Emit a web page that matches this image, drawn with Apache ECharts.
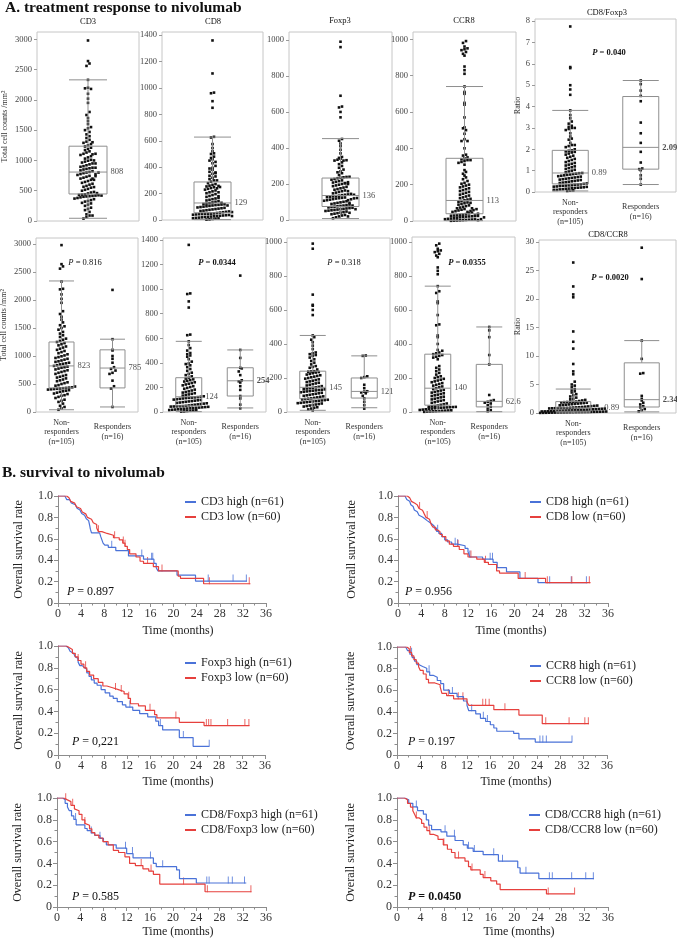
<!DOCTYPE html>
<html><head><meta charset="utf-8">
<script src="https://cdn.jsdelivr.net/npm/echarts@6/dist/echarts.min.js"></script>
<style>html,body{margin:0;padding:0;background:#fff}#main{width:677px;height:941px}</style>
</head><body><div id="main"></div>
<script>
// ================= DATA =================
const groupNames = ['Non-\nresponders\n(n=105)', 'Responders\n(n=16)'];
const allGroup = ['All patients'];

// Cell densities (cells/mm2) per patient, non-responders (105) and responders (16)
const cd3NR = [40,65,90,110,150,180,200,220,250,270,290,300,320,330,345,360,370,380,390,400,405,410,415,420,425,430,
 435,440,455,470,480,500,515,530,550,565,580,600,615,630,645,660,680,700,715,730,745,760,775,790,800,810,823,
 835,850,860,870,880,895,905,920,935,950,965,980,995,1010,1030,1050,1070,1090,1110,1130,1150,1170,1190,1210,1230,1250,
 1270,1290,1310,1340,1370,1400,1430,1470,1500,1530,1550,1600,1650,1700,1750,1800,1950,2020,2100,2190,2200,2330,2560,2600,2640,2980];
const cd3R = [90,420,460,560,680,700,740,770,800,880,950,1000,1100,1110,1300,2180];
const cd8NR = [3,5,8,10,12,14,16,18,20,22,24,26,28,30,32,34,36,38,40,42,44,45,46,47,48,50,
 53,56,59,62,65,68,71,74,77,80,83,86,89,92,95,98,101,104,107,110,113,115,117,119,121,124,
 128,133,138,143,148,153,158,163,168,175,182,189,196,203,210,217,224,230,236,242,248,254,260,266,272,279,
 290,300,310,320,335,350,365,380,390,395,410,430,450,460,470,480,500,520,545,575,625,630,850,900,960,965,1360];
const cd8R = [30,60,110,130,180,210,240,250,258,300,330,355,360,440,505,1110];
const foxNR = [10,15,20,25,28,32,35,38,41,44,47,50,52,54,56,58,60,62,64,66,68,70,72,74,76,78,
 80,83,86,89,92,95,98,101,104,107,110,113,116,119,121,123,125,127,129,131,133,135,138,140,142,145,
 148,152,156,160,164,168,172,176,180,184,188,192,196,200,204,208,212,216,220,224,228,232,235,237,239,240,
 250,260,265,270,280,290,300,310,320,330,335,340,345,350,370,390,410,425,440,450,570,600,625,630,690,960,990];
const foxR = [20,40,60,80,95,110,115,120,122,140,160,200,205,210,330,332];
const ccr8NR = [1,2,3,4,5,6,7,8,9,10,12,14,16,18,20,22,24,25,26,27,28,29,30,31,33,35,
 38,42,46,50,54,58,62,66,70,74,78,82,86,90,94,98,102,106,110,114,118,122,126,130,135,140,
 145,150,155,160,165,170,175,180,185,190,195,200,205,210,220,230,240,250,260,270,310,320,325,330,335,340,
 345,350,360,365,400,440,450,510,515,570,640,650,700,710,740,810,830,850,910,920,930,940,945,950,960,980,990];
const ccr8R = [5,10,20,30,40,50,55,60,65.2,70,100,280,335,440,480,500];
const ratioFoxNR = [0.05,0.07,0.08,0.1,0.1,0.12,0.13,0.15,0.16,0.18,0.19,0.2,0.21,0.22,0.24,0.25,0.26,0.28,0.29,0.3,0.31,0.32,0.34,0.35,0.36,0.38,
 0.4,0.42,0.44,0.46,0.48,0.5,0.52,0.54,0.56,0.58,0.6,0.62,0.64,0.66,0.68,0.7,0.72,0.74,0.76,0.78,0.8,0.82,0.84,0.86,0.88,0.89,
 0.92,0.96,1.0,1.04,1.08,1.12,1.16,1.2,1.24,1.28,1.32,1.36,1.4,1.45,1.5,1.55,1.6,1.65,1.7,1.75,1.8,1.85,1.88,1.9,1.93,1.95,
 2.0,2.1,2.15,2.2,2.2,2.3,2.45,2.5,2.6,2.75,2.9,2.95,3.0,3.0,3.05,3.1,3.2,3.3,3.45,3.6,3.82,4.55,4.8,5.0,5.8,5.85,7.75];
const ratioFoxR = [0.35,0.62,0.78,1.02,1.07,1.1,1.38,1.88,2.3,2.75,3.25,4.25,4.5,4.75,5.05,5.22];
const ratioCcrNR = [0.02,0.03,0.04,0.05,0.06,0.07,0.08,0.09,0.1,0.11,0.12,0.13,0.14,0.15,0.16,0.17,0.18,0.19,0.2,0.21,0.22,0.24,0.26,0.27,0.28,0.3,
 0.32,0.34,0.36,0.38,0.4,0.42,0.44,0.46,0.48,0.5,0.53,0.56,0.59,0.62,0.65,0.68,0.71,0.74,0.77,0.8,0.82,0.84,0.86,0.87,0.88,0.89,
 0.92,0.95,0.98,1.01,1.05,1.1,1.15,1.2,1.25,1.3,1.35,1.4,1.45,1.5,1.55,1.6,1.65,1.7,1.75,1.8,1.85,1.9,1.93,1.96,1.98,2.0,
 2.1,2.2,2.3,2.4,2.5,2.7,2.9,3.1,3.3,3.6,3.8,4.0,4.2,4.5,4.8,5.0,5.5,6.8,7.3,8.6,11.3,12.5,14.3,20.3,20.8,22.2,26.4];
const ratioCcrR = [0.3,0.5,0.7,1.0,1.2,1.5,1.8,2.2,2.48,3.0,6.9,7.0,9.5,12.7,23.5,29.0];

// Box statistics: [lower whisker, Q1, median, Q3, upper whisker]
const cd3AllBox = [45,446,808,1235,2330];
const cd8AllBox = [3,55,129,288,628];
const foxAllBox = [8,75,136,233,452];
const ccr8AllBox = [2,40,113,345,740];
const ratioFoxBox = [[0.05,0.38,0.89,1.95,3.82],[0.35,1.07,2.09,4.47,5.22]];
const cd3Box = [[40,430,823,1250,2340],[90,430,785,1110,1300]];
const cd8Box = [[3,50,124,279,575],[33,130,254,360,505]];
const foxBox = [[10,78,145,240,450],[25,82,121,200,330]];
const ccr8Box = [[1,40,140,340,740],[2,30,62.6,280,500]];
const ratioCcrBox = [[0.02,0.3,0.89,2.0,4.2],[0.2,1.05,2.34,8.8,12.7]];

// P values
const pCD3 = '0.816', pCD8 = '0.0344', pFox = '0.318', pCCR8 = '0.0355', pRatioCcr = '0.0020', pRatioFox = '0.040';

// Kaplan-Meier curves: [time (months), survival after drop]; censor times
const cd3HighKM = [[0,1],[1.2,0.984],[1.5,0.967],[2.0,0.951],[2.3,0.934],[2.6,0.918],[3.0,0.902],[3.3,0.885],[3.6,0.869],[3.8,0.852],[4.1,0.836],[4.4,0.82],[4.6,0.803],[4.9,0.787],[5.1,0.77],[5.3,0.754],[5.5,0.72],[5.6,0.69],[5.8,0.656],[7.2,0.639],[7.4,0.62],[7.6,0.59],[7.8,0.56],[8.1,0.54],[8.7,0.52],[10.0,0.49],[12.2,0.44],[14.8,0.41],[16.6,0.37],[17.0,0.33],[17.3,0.3],[20.6,0.26],[23.8,0.205],[32.7,0.205]];
const cd3HighCens = [9.3,14.5,16.2,16.4,26.0,30.3,32.6];
const cd3LowKM = [[0,1],[1.5,0.983],[1.9,0.967],[2.2,0.95],[2.5,0.933],[2.9,0.917],[3.2,0.9],[3.5,0.883],[3.9,0.867],[4.2,0.85],[4.5,0.833],[4.8,0.817],[5.1,0.8],[5.4,0.783],[5.8,0.767],[6.1,0.75],[6.4,0.733],[6.7,0.7],[7.0,0.667],[7.6,0.65],[8.5,0.633],[9.6,0.61],[10.6,0.59],[11.2,0.56],[11.6,0.53],[12.0,0.5],[12.4,0.46],[13.5,0.43],[14.2,0.39],[14.8,0.37],[16.5,0.34],[17.4,0.3],[20.8,0.25],[21.2,0.23],[25.2,0.18],[33.3,0.18]];
const cd3LowCens = [7.0,9.8,11.3,11.6,15.5,18.0,26.2,33.1];
const cd8HighKM = [[0,1],[1.2,0.984],[1.5,0.967],[1.8,0.951],[2.0,0.934],[2.2,0.918],[2.4,0.902],[2.6,0.885],[2.8,0.869],[3.0,0.852],[3.3,0.836],[3.6,0.82],[3.9,0.803],[4.2,0.787],[4.6,0.77],[5.0,0.754],[5.4,0.738],[5.8,0.72],[6.2,0.7],[6.6,0.67],[7.0,0.65],[7.5,0.62],[8.0,0.59],[8.5,0.57],[9.2,0.55],[10.2,0.535],[11.5,0.51],[12.0,0.48],[12.3,0.43],[14.5,0.41],[16.3,0.38],[17.0,0.33],[18.6,0.29],[20.9,0.23],[24.0,0.19],[32.5,0.19]];
const cd8HighCens = [6.8,9.8,10.2,12.3,15.8,16.2,26.0,29.7,32.3];
const cd8LowKM = [[0,1],[1.6,0.983],[2.0,0.967],[2.3,0.95],[2.6,0.933],[2.9,0.917],[3.3,0.9],[3.6,0.883],[3.9,0.867],[4.2,0.85],[4.5,0.833],[4.8,0.8],[5.1,0.783],[5.4,0.767],[5.7,0.733],[6.0,0.71],[6.4,0.683],[6.8,0.667],[7.2,0.64],[7.6,0.62],[8.2,0.58],[8.8,0.55],[9.5,0.53],[10.5,0.5],[11.3,0.46],[12.0,0.43],[13.5,0.41],[14.8,0.38],[15.5,0.36],[16.9,0.3],[17.4,0.28],[20.6,0.23],[25.3,0.19],[33.0,0.19]];
const cd8LowCens = [3.7,5.0,10.3,12.5,15.0,21.8,25.6,29.8,32.8];
const foxHighKM = [[0,1],[1.4,0.984],[1.8,0.967],[2.1,0.951],[2.4,0.934],[2.7,0.918],[3.0,0.902],[3.2,0.885],[3.5,0.852],[3.8,0.82],[4.2,0.803],[4.6,0.787],[5.0,0.754],[5.4,0.72],[5.8,0.69],[6.3,0.66],[6.8,0.64],[7.5,0.6],[8.2,0.57],[9.0,0.54],[9.6,0.52],[10.3,0.49],[11.2,0.46],[11.8,0.44],[13.0,0.41],[14.2,0.38],[15.6,0.35],[17.0,0.31],[17.5,0.27],[18.2,0.23],[21.1,0.16],[23.5,0.08],[26.3,0.08]];
const foxHighCens = [12.5,17.8,21.8,26.3];
const foxLowKM = [[0,1],[1.5,0.983],[2.0,0.967],[2.5,0.933],[3.0,0.9],[3.5,0.867],[4.0,0.833],[4.5,0.8],[5.0,0.767],[5.5,0.733],[6.2,0.7],[7.0,0.667],[7.8,0.633],[8.5,0.617],[9.5,0.6],[10.5,0.583],[11.5,0.56],[12.2,0.52],[12.6,0.47],[14.0,0.45],[15.2,0.41],[16.8,0.37],[17.2,0.34],[21.1,0.3],[25.4,0.27],[33.3,0.27]];
const foxLowCens = [3.5,4.8,10.0,11.0,12.3,16.0,20.5,25.8,26.2,26.6,29.5,32.5,33.2];
const ccr8HighKM = [[0,1],[1.5,0.984],[1.8,0.967],[2.2,0.934],[2.6,0.902],[3.0,0.869],[3.4,0.836],[3.8,0.82],[4.4,0.803],[5.1,0.77],[5.6,0.738],[6.2,0.72],[6.9,0.69],[7.5,0.66],[8.0,0.6],[9.0,0.57],[10.3,0.54],[11.4,0.5],[12.0,0.46],[12.3,0.41],[13.5,0.38],[14.3,0.34],[15.2,0.31],[16.0,0.28],[16.6,0.25],[17.1,0.22],[20.0,0.2],[20.9,0.15],[23.7,0.12],[30.0,0.12]];
const ccr8HighCens = [2.5,5.5,9.5,12.8,14.8,15.5,24.5,25.0,25.6,30.0];
const ccr8LowKM = [[0,1],[1.7,0.983],[2.1,0.95],[2.5,0.917],[2.9,0.883],[3.3,0.85],[3.7,0.817],[4.0,0.783],[4.5,0.75],[5.0,0.7],[5.4,0.667],[6.5,0.65],[7.4,0.63],[7.7,0.57],[8.5,0.55],[9.7,0.52],[12.0,0.49],[12.3,0.46],[16.6,0.42],[20.9,0.37],[24.9,0.29],[32.9,0.29]];
const ccr8LowCens = [2.3,8.8,10.5,11.3,14.7,15.2,15.8,18.5,25.5,29.5,32.2,32.8];
const rFoxHighKM = [[0,1],[1.0,0.984],[1.4,0.951],[1.8,0.918],[2.1,0.885],[2.5,0.836],[2.9,0.803],[3.3,0.754],[4.8,0.72],[5.2,0.7],[5.9,0.68],[6.5,0.656],[7.4,0.63],[8.0,0.6],[8.5,0.57],[10.2,0.54],[12.0,0.49],[13.1,0.45],[16.6,0.4],[17.1,0.37],[20.6,0.34],[21.1,0.26],[24.0,0.22],[32.6,0.22]];
const rFoxHighCens = [3.2,5.9,7.4,11.8,13.0,16.1,18.2,25.8,26.2,29.5,30.2,32.3];
const rFoxLowKM = [[0,1],[1.2,0.983],[1.8,0.967],[2.4,0.933],[3.0,0.9],[3.3,0.883],[3.8,0.85],[4.3,0.8],[4.8,0.767],[5.1,0.75],[5.6,0.717],[6.0,0.683],[6.5,0.66],[7.2,0.633],[7.9,0.6],[8.8,0.57],[9.7,0.52],[10.6,0.5],[11.7,0.46],[12.5,0.4],[13.5,0.38],[14.8,0.35],[15.8,0.33],[16.6,0.3],[17.7,0.21],[25.5,0.14],[33.5,0.14]];
const rFoxLowCens = [1.5,2.7,4.8,14.5,16.2,21.8,25.9,33.4];
const rCcrHighKM = [[0,1],[1.3,0.984],[2.0,0.951],[2.7,0.918],[3.5,0.885],[4.5,0.852],[5.0,0.8],[5.4,0.75],[5.9,0.71],[7.5,0.69],[8.5,0.65],[9.9,0.61],[11.3,0.57],[12.0,0.54],[13.0,0.51],[14.7,0.48],[17.3,0.42],[20.6,0.36],[21.0,0.31],[24.2,0.26],[33.6,0.26]];
const rCcrHighCens = [3.3,8.2,9.8,12.2,13.2,16.5,18.0,22.0,26.0,26.5,29.8,32.2,33.5];
const rCcrLowKM = [[0,1],[1.3,0.983],[1.8,0.95],[2.3,0.917],[2.7,0.883],[3.0,0.85],[3.3,0.817],[3.8,0.8],[4.2,0.767],[4.6,0.733],[5.1,0.7],[5.6,0.667],[6.2,0.65],[7.0,0.62],[7.9,0.57],[8.6,0.53],[9.3,0.5],[9.9,0.45],[11.6,0.42],[12.2,0.37],[12.6,0.34],[14.2,0.3],[14.7,0.27],[16.0,0.24],[17.0,0.21],[17.6,0.16],[25.5,0.12],[30.3,0.12]];
const rCcrLowCens = [3.3,5.5,8.0,10.5,12.8,15.0,25.8,30.3];
const kmP = ['0.897','0.956','0,221','0.197','0.585','0.0450'];

// ================= LAYOUT & STYLE =================
const FONT = '"Liberation Serif","Times New Roman",Times,serif';
const BLUE = '#4a72d8', RED = '#e6403d', AX = '#8c8c8c';

const boxPanels = [
 {left:37, top:32, w:102, h:189, max:3120, step:500, cats:allGroup, sets:[cd3NR.concat(cd3R)], boxes:[cd3AllBox], bw:38, yName:'Total cell counts /mm²', nameGap:28, showX:false, binPx:4},
 {left:162, top:32, w:101, h:188, max:1424, step:200, cats:allGroup, sets:[cd8NR.concat(cd8R)], boxes:[cd8AllBox], bw:37, showX:false, binPx:3.5},
 {left:289, top:32, w:103, h:188, max:1044, step:200, cats:allGroup, sets:[foxNR.concat(foxR)], boxes:[foxAllBox], bw:37, showX:false, binPx:3.5},
 {left:413, top:32, w:103, h:189, max:1040, step:200, cats:allGroup, sets:[ccr8NR.concat(ccr8R)], boxes:[ccr8AllBox], bw:37, showX:false, binPx:3.5},
 {left:535, top:19, w:141, h:173, max:8.1, step:1, cats:groupNames, sets:[ratioFoxNR, ratioFoxR], boxes:ratioFoxBox, bw:36, yName:'Ratio', nameGap:8, showX:true, xMargin:20, bold:[false,true], binPx:3.5},
 {left:36, top:238, w:102, h:174, max:3107, step:500, cats:groupNames, sets:[cd3NR, cd3R], boxes:cd3Box, bw:25, yName:'Total cell counts /mm²', nameGap:28, showX:true, xMargin:20, binPx:4},
 {left:163, top:238, w:103, h:174, max:1416, step:200, cats:groupNames, sets:[cd8NR, cd8R], boxes:cd8Box, bw:26, showX:true, xMargin:20, bold:[false,true], binPx:3.5},
 {left:287, top:238, w:103, h:174, max:1023, step:200, cats:groupNames, sets:[foxNR, foxR], boxes:foxBox, bw:26, showX:true, xMargin:20, binPx:3.5},
 {left:412, top:237, w:103, h:175, max:1029, step:200, cats:groupNames, sets:[ccr8NR, ccr8R], boxes:ccr8Box, bw:26, showX:true, xMargin:20, binPx:3.5},
 {left:539, top:240, w:137, h:173, max:30.35, step:5, cats:groupNames, sets:[ratioCcrNR, ratioCcrR], boxes:ratioCcrBox, bw:35, yName:'Ratio', nameGap:11, showX:true, xMargin:20, bold:[false,true], binPx:3, labelGap:[13,3]}
];

const kmPanels = [
 {left:58, top:496, w:208, h:107, hi:cd3HighKM, lo:cd3LowKM, hiC:cd3HighCens, loC:cd3LowCens, names:['CD3 high (n=61)','CD3 low (n=60)'], legL:185, legT:495, p:kmP[0], pBold:false, pX:67, pY:592, yGap:33, tGap:22, tPad:32},
 {left:398, top:496, w:210, h:107, hi:cd8HighKM, lo:cd8LowKM, hiC:cd8HighCens, loC:cd8LowCens, names:['CD8 high (n=61)','CD8 low (n=60)'], legL:530, legT:495, p:kmP[1], pBold:false, pX:405, pY:592, yGap:40, tGap:22, tPad:16},
 {left:58, top:646, w:207, h:109, hi:foxHighKM, lo:foxLowKM, hiC:foxHighCens, loC:foxLowCens, names:['Foxp3 high (n=61)','Foxp3 low (n=60)'], legL:185, legT:656, p:kmP[2], pBold:false, pX:72, pY:742, yGap:33, tGap:21, tPad:33},
 {left:397, top:647, w:210, h:108, hi:ccr8HighKM, lo:ccr8LowKM, hiC:ccr8HighCens, loC:ccr8LowCens, names:['CCR8 high (n=61)','CCR8 low (n=60)'], legL:530, legT:659, p:kmP[3], pBold:false, pX:408, pY:742, yGap:40, tGap:21, tPad:28},
 {left:57, top:798, w:209, h:109, hi:rFoxHighKM, lo:rFoxLowKM, hiC:rFoxHighCens, loC:rFoxLowCens, names:['CD8/Foxp3 high (n=61)','CD8/Foxp3 low (n=60)'], legL:185, legT:808, p:kmP[4], pBold:false, pX:72, pY:897, yGap:33, tGap:19, tPad:33},
 {left:397, top:798, w:211, h:109, hi:rCcrHighKM, lo:rCcrLowKM, hiC:rCcrHighCens, loC:rCcrLowCens, names:['CD8/CCR8 high (n=61)','CD8/CCR8 low (n=60)'], legL:529, legT:808, p:kmP[5], pBold:true, pX:408, pY:897, yGap:40, tGap:19, tPad:33}
];

const panelTitles = [['CD3',88,22],['CD8',213,22],['Foxp3',340,21],['CCR8',464,21],['CD8/Foxp3',607,13],['CD8/CCR8',608,235]];
const panelP = [[pCD3,85,263,false],[pCD8,217,263,true],[pFox,344,263,false],[pCCR8,467,263,true],[pRatioCcr,610,278,true],[pRatioFox,609,53,true]];

// ================= HELPERS =================
function swarm(vals, cat, binSize, step) {
  const bins = new Map();
  vals.forEach(v => { const b = Math.round(v / binSize); if (!bins.has(b)) bins.set(b, []); bins.get(b).push(v); });
  const out = [];
  bins.forEach(arr => { const n = arr.length; arr.forEach((v, k) => out.push([cat, v, (k - (n - 1) / 2) * step])); });
  return out;
}
function survAt(steps, t) { let s = 1; for (const [ti, si] of steps) { if (ti <= t) s = si; else break; } return s; }
function txt(x, y, text, size, extra) {
  return {type:'text', x:x, y:y, silent:true, z:100, style:Object.assign({text:text, fontSize:size, fontFamily:FONT, fill:'#111', align:'center', verticalAlign:'middle'}, extra || {})};
}
function pTxt(x, y, val, size, bold, align) {
  const w = bold ? 'bold' : 'normal';
  return {type:'text', x:x, y:y, silent:true, z:100, style:{text:'{i|P}{n| = ' + val + '}', align:align, verticalAlign:'middle',
    rich:{i:{fontStyle:'italic', fontWeight:w, fontSize:size, fontFamily:FONT, fill:'#111'}, n:{fontWeight:w, fontSize:size, fontFamily:FONT, fill:'#111'}}}};
}

// ================= BUILD =================
const grid = [], xAxis = [], yAxis = [], series = [], legend = [], elements = [];

boxPanels.forEach((p, gi) => {
  grid.push({left:p.left, top:p.top, width:p.w, height:p.h, show:true, borderColor:'#c6c6c6', borderWidth:1, backgroundColor:'rgba(0,0,0,0)', containLabel:false, outerBoundsMode:'none'});
  xAxis.push({type:'category', gridIndex:gi, data:p.cats, boundaryGap:true, axisLine:{show:false}, axisTick:{show:false}, splitLine:{show:false},
    axisLabel:{show:p.showX, interval:0, fontSize:8, fontFamily:FONT, color:'#333', lineHeight:9.5, verticalAlign:'middle', margin:p.xMargin || 20}});
  yAxis.push({type:'value', gridIndex:gi, min:0, max:p.max, interval:p.step, axisLine:{show:false}, axisTick:{show:true, length:3, lineStyle:{color:'#9a9a9a'}}, splitLine:{show:false},
    axisLabel:{fontSize:8.5, fontFamily:FONT, color:'#444', margin:5, showMaxLabel:false, formatter:v => String(v)},
    name:p.yName || '', nameLocation:'middle', nameRotate:90, nameGap:p.nameGap || 0, nameTextStyle:{fontSize:8, fontFamily:FONT, color:'#333'}});
  const bin = p.max * p.binPx / p.h;
  p.sets.forEach((vals, ci) => {
    series.push({type:'custom', coordinateSystem:'cartesian2d', xAxisIndex:gi, yAxisIndex:gi, z:2, silent:true, animation:false,
      dimensions:['g','v','dx'], encode:{x:0, y:1}, data:swarm(vals, ci, bin, 3),
      renderItem:function (params, api) {
        const c = api.coord([api.value(0), api.value(1)]);
        return {type:'rect', shape:{x:c[0] + api.value(2) - 1.3, y:c[1] - 1.3, width:2.6, height:2.6}, style:{fill:'#111'}};
      }});
  });
  series.push({type:'boxplot', xAxisIndex:gi, yAxisIndex:gi, z:3, silent:true, animation:false, boxWidth:[p.bw, p.bw], data:p.boxes,
    itemStyle:{color:'rgba(0,0,0,0)', borderColor:'#8f8f8f', borderWidth:1}});
  p.boxes.forEach((b, i) => {
    const gap = p.labelGap ? p.labelGap[i] : 3;
    series.push({type:'scatter', xAxisIndex:gi, yAxisIndex:gi, z:4, silent:true, animation:false, symbolSize:1, itemStyle:{color:'rgba(0,0,0,0)'},
      data:[[i, b[2]]],
      label:{show:true, position:'right', distance:p.bw / 2 + gap, formatter:q => String(q.value[1]), fontSize:8.5, fontFamily:FONT, color:'#222',
        fontWeight:(p.bold && p.bold[i]) ? 'bold' : 'normal'}});
  });
});

kmPanels.forEach((k, j) => {
  const gi = boxPanels.length + j;
  grid.push({left:k.left, top:k.top, width:k.w, height:k.h, show:false, containLabel:false, outerBoundsMode:'none'});
  xAxis.push({type:'value', gridIndex:gi, min:0, max:36, interval:4,
    axisLine:{show:true, onZero:false, lineStyle:{color:AX}}, axisTick:{show:true, length:4, lineStyle:{color:AX}},
    minorTick:{show:true, splitNumber:2, length:2.5, lineStyle:{color:AX}}, splitLine:{show:false}, minorSplitLine:{show:false},
    axisLabel:{fontSize:12, fontFamily:FONT, color:'#333', margin:5},
    name:'Time (months)', nameLocation:'middle', nameGap:k.tGap, nameTextStyle:{fontSize:12, fontFamily:FONT, color:'#222', padding:[0,0,0,k.tPad]}});
  yAxis.push({type:'value', gridIndex:gi, min:0, max:1, interval:0.2,
    axisLine:{show:true, onZero:false, lineStyle:{color:AX}}, axisTick:{show:true, length:4, lineStyle:{color:AX}},
    minorTick:{show:true, splitNumber:2, length:2.5, lineStyle:{color:AX}}, splitLine:{show:false}, minorSplitLine:{show:false},
    axisLabel:{fontSize:12, fontFamily:FONT, color:'#333', margin:5, formatter:v => (v === 0 ? '0' : v.toFixed(1))},
    name:'Overall survival rate', nameLocation:'middle', nameRotate:90, nameGap:k.yGap, nameTextStyle:{fontSize:12, fontFamily:FONT, color:'#222'}});
  [[k.hi, k.hiC, BLUE, k.names[0]], [k.lo, k.loC, RED, k.names[1]]].forEach(([steps, cens, col, nm]) => {
    series.push({type:'line', name:nm, step:'end', xAxisIndex:gi, yAxisIndex:gi, data:steps, showSymbol:false, symbol:'none', silent:true, animation:false,
      lineStyle:{color:col, width:1.2}, itemStyle:{color:col}});
    series.push({type:'scatter', name:nm + ' censored', xAxisIndex:gi, yAxisIndex:gi, silent:true, animation:false,
      data:cens.map(t => [t, survAt(steps, t)]), symbol:'rect', symbolSize:[1, 7], symbolOffset:[0, -3], itemStyle:{color:col}});
  });
  legend.push({left:k.legL, top:k.legT, orient:'vertical', data:k.names, icon:'rect', itemWidth:11, itemHeight:2, itemGap:1, padding:0, selectedMode:false,
    textStyle:{fontSize:12, fontFamily:FONT, color:'#222', lineHeight:14}});
  elements.push(pTxt(k.pX, k.pY, k.p, 12, k.pBold, 'left'));
});

elements.push(txt(5, 8, 'A. treatment response to nivolumab', 15.5, {align:'left', fontWeight:'bold'}));
elements.push(txt(2, 473, 'B. survival to nivolumab', 15.5, {align:'left', fontWeight:'bold'}));
panelTitles.forEach(([t, x, y]) => elements.push(txt(x, y, t, 8.5)));
panelP.forEach(([v, x, y, b]) => elements.push(pTxt(x, y, v, 8.5, b, 'center')));

const chart = echarts.init(document.getElementById('main'), null, {renderer:'canvas', width:677, height:941});
chart.setOption({
  backgroundColor:'#ffffff', animation:false,
  grid:grid, xAxis:xAxis, yAxis:yAxis, series:series, legend:legend,
  graphic:{elements:elements}
});
</script></body></html>
